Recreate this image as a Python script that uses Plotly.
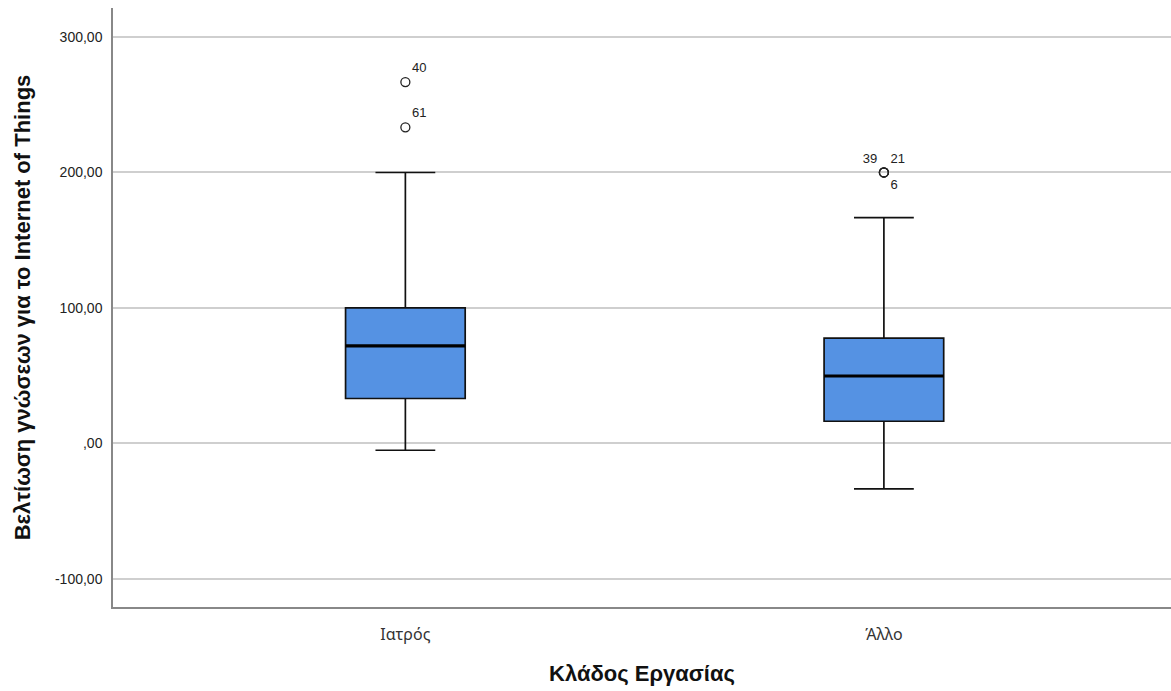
import plotly.graph_objects as go

categories = ["Ιατρός", "Άλλο"]
q1 = [33.2, 16.4]
median = [72.0, 49.8]
q3 = [100.0, 77.7]
lower = [-5.0, -33.5]
upper = [200.0, 166.7]

out_group = [0, 0, 1, 1, 1]
out_values = [266.7, 233.3, 200.0, 200.0, 200.0]
out_labels = ["40", "61", "39", "21", "6"]
out_textpos = ["top right", "top right", "top left", "top right", "bottom right"]

y_ticks = [-100, 0, 100, 200, 300]
y_ticktext = ["-100,00", ",00", "100,00", "200,00", "300,00"]

box_w = 0.25
fill = "#5592E3"

fig = go.Figure()
for i, c in enumerate(categories):
    fig.add_trace(go.Box(
        x=[i], q1=[q1[i]], median=[median[i]], q3=[q3[i]],
        lowerfence=[lower[i]], upperfence=[upper[i]],
        width=box_w, whiskerwidth=0.5,
        fillcolor=fill, line=dict(color="#111111", width=1.7),
        boxpoints=False, showlegend=False, hoverinfo="skip",
    ))
    fig.add_trace(go.Scatter(
        x=[i - box_w / 2, i + box_w / 2], y=[median[i], median[i]],
        mode="lines", line=dict(color="black", width=3.2),
        showlegend=False, hoverinfo="skip",
    ))

fig.add_trace(go.Scatter(
    x=out_group, y=out_values, mode="markers+text",
    marker=dict(symbol="circle-open", size=9, color="#222222", line=dict(width=1.3)),
    text=out_labels, textposition=out_textpos,
    textfont=dict(family="Liberation Sans, Arial", size=13, color="#222222"),
    showlegend=False, hoverinfo="skip",
))

fig.update_layout(
    width=1171, height=691,
    margin=dict(l=113, r=0, t=8, b=84),
    plot_bgcolor="white", paper_bgcolor="white",
    font=dict(family="Liberation Sans, Arial", color="#222222"),
)
fig.update_xaxes(
    range=[-0.611, 1.6], tickvals=[0, 1], ticktext=categories,
    tickfont=dict(family="Noto Sans, Liberation Sans", size=16, color="#333333"),
    showgrid=False, zeroline=False, showline=True, linecolor="#888888", linewidth=1.5,
    ticks="", ticklabelstandoff=12,
    title=dict(text="<b>Κλάδος Εργασίας</b>", font=dict(size=22, color="#111111"), standoff=22),
)
fig.update_yaxes(
    range=[-120.7, 321.4], tickvals=y_ticks, ticktext=y_ticktext,
    tickfont=dict(size=14, color="#222222"),
    showgrid=True, gridcolor="#cfcfcf", gridwidth=1.5, zeroline=False,
    showline=True, linecolor="#888888", linewidth=1.5, ticks="", ticklabelstandoff=6,
    title=dict(text="<b>Βελτίωση γνώσεων για το Internet of Things</b>", font=dict(size=22, color="#111111"), standoff=18),
)

fig.write_html("out.html")
